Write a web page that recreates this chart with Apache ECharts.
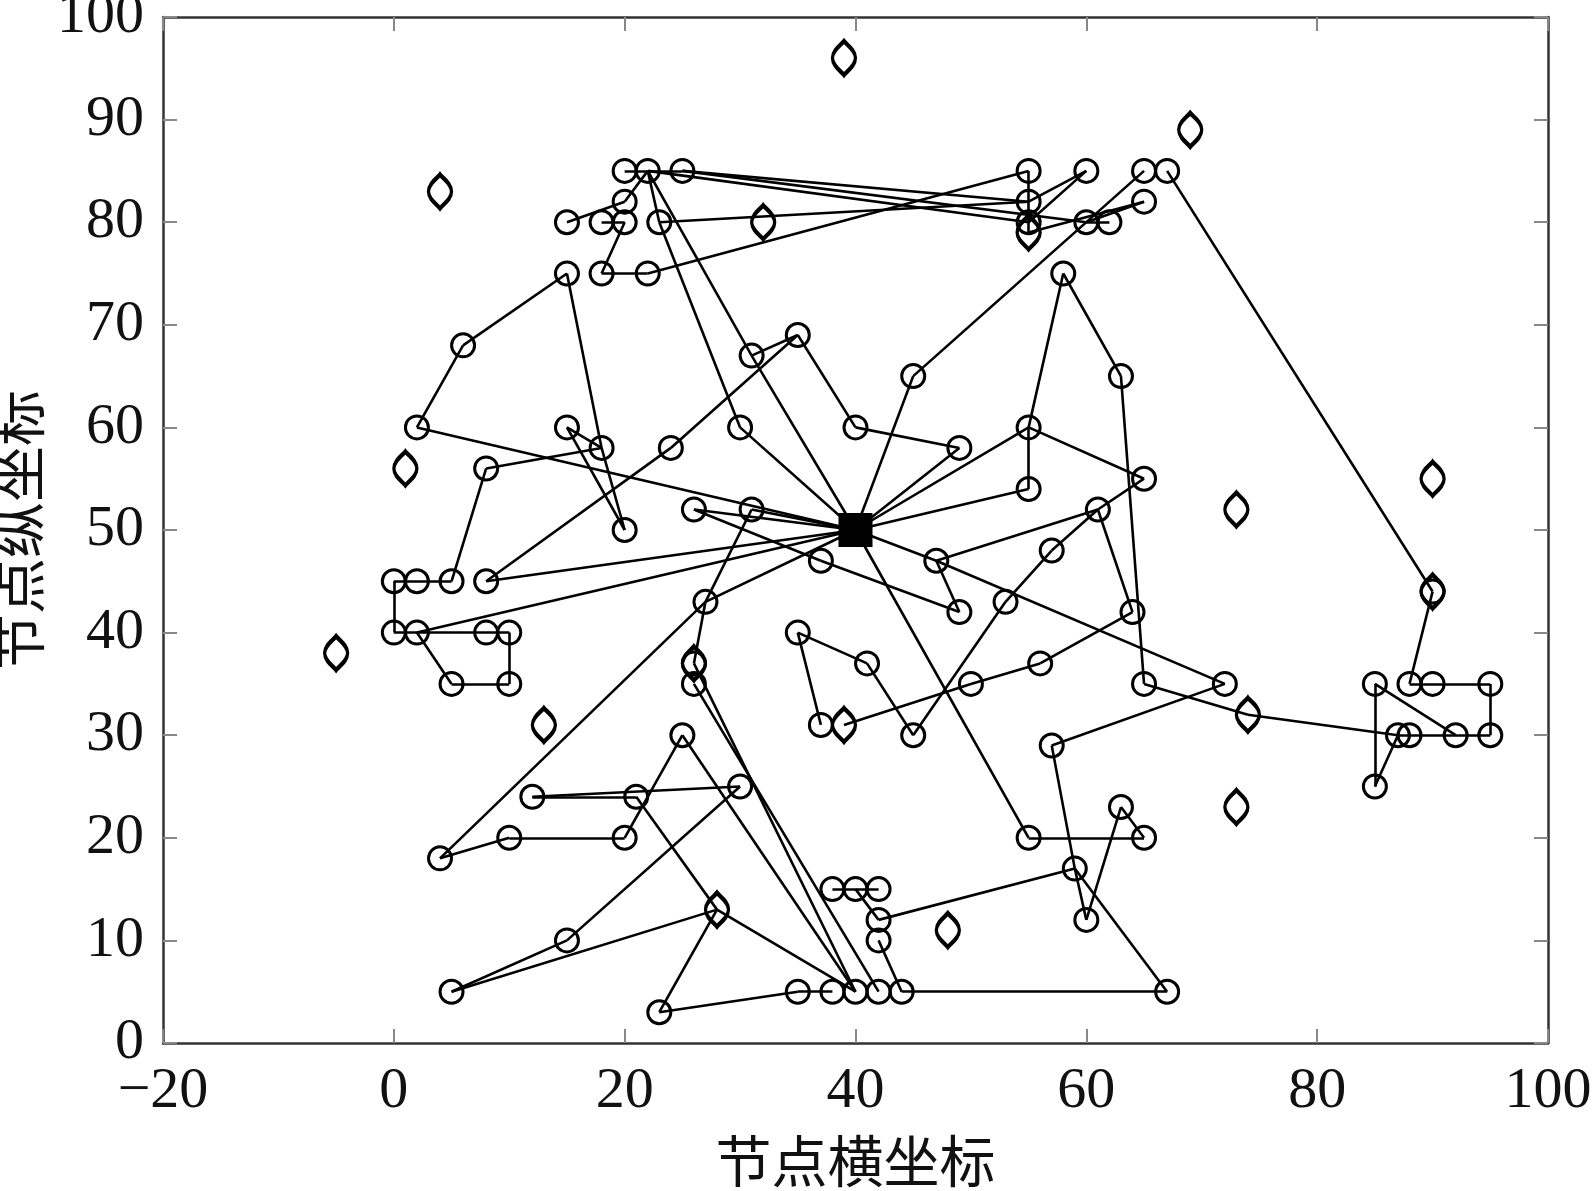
<!DOCTYPE html>
<html>
<head>
<meta charset="utf-8">
<script src="https://cdn.jsdelivr.net/npm/echarts@6/dist/echarts.min.js"></script>
<style>
  html, body { margin: 0; padding: 0; background: #fff; }
  #chart { width: 1595px; height: 1191px; }
</style>
</head>
<body>
<div id="chart"></div>
<script>
// 普通节点 (circles)
var circleNodes = [
  [20, 85], [22, 85], [25, 85], [55, 85], [60, 85], [65, 85], [67, 85],
  [20, 82], [55, 82], [65, 82],
  [15, 80], [18, 80], [20, 80], [23, 80], [55, 80], [60, 80], [62, 80],
  [15, 75], [18, 75], [22, 75], [58, 75],
  [35, 69], [6, 68], [31, 67], [45, 65], [63, 65],
  [2, 60], [15, 60], [30, 60], [40, 60], [55, 60],
  [18, 58], [24, 58], [49, 58], [8, 56], [65, 55], [55, 54],
  [20, 50], [26, 52], [31, 52], [61, 52],
  [37, 47], [47, 47], [57, 48],
  [0, 45], [2, 45], [5, 45], [8, 45],
  [27, 43], [49, 42], [53, 43], [64, 42], [90, 44],
  [0, 40], [2, 40], [8, 40], [10, 40], [35, 40],
  [26, 37], [41, 37], [56, 37],
  [5, 35], [10, 35], [26, 35], [50, 35], [65, 35], [72, 35],
  [85, 35], [88, 35], [90, 35], [95, 35],
  [37, 31], [25, 30], [45, 30], [57, 29], [87, 30], [88, 30], [92, 30], [95, 30],
  [85, 25], [12, 24], [21, 24], [30, 25], [63, 23],
  [4, 18], [10, 20], [20, 20], [55, 20], [65, 20], [59, 17],
  [38, 15], [40, 15], [42, 15], [42, 12], [60, 12],
  [15, 10], [42, 10],
  [5, 5], [35, 5], [38, 5], [40, 5], [42, 5], [44, 5], [67, 5], [23, 3]
];

// 菱形节点 (diamonds)
var diamondNodes = [
  [39, 96], [69, 89], [4, 83], [32, 80], [55, 79], [1, 56], [73, 52],
  [90, 55], [90, 44], [-5, 38], [26, 37], [13, 31], [39, 31], [74, 32],
  [73, 23], [28, 13], [48, 11]
];

// 汇聚节点 (sink)
var sinkNodes = [[40, 50]];

// 连线
var edges = [
  [[15, 80], [20, 82]], [[20, 82], [22, 85]], [[20, 85], [22, 85]], [[22, 85], [25, 85]],
  [[20, 80], [18, 75]], [[18, 80], [20, 80]], [[22, 85], [23, 80]], [[18, 75], [22, 75]],
  [[22, 75], [55, 85]], [[22, 85], [55, 80]], [[25, 85], [55, 82]], [[25, 85], [60, 80]],
  [[23, 80], [55, 82]], [[22, 85], [31, 67]], [[31, 67], [40, 50]], [[23, 80], [30, 60]],
  [[30, 60], [40, 50]], [[31, 67], [35, 69]], [[35, 69], [40, 60]], [[40, 60], [49, 58]],
  [[49, 58], [40, 50]],
  [[15, 75], [6, 68]], [[6, 68], [2, 60]], [[2, 60], [40, 50]],
  [[15, 75], [18, 58]], [[18, 58], [20, 50]], [[15, 60], [20, 50]], [[15, 60], [18, 58]],
  [[8, 56], [18, 58]], [[8, 56], [5, 45]],
  [[0, 45], [5, 45]], [[0, 45], [0, 40]], [[0, 40], [10, 40]], [[10, 40], [10, 35]],
  [[10, 35], [5, 35]], [[5, 35], [2, 40]],
  [[2, 40], [40, 50]], [[8, 45], [40, 50]], [[8, 45], [24, 58]], [[24, 58], [35, 69]],
  [[26, 52], [37, 47]], [[37, 47], [49, 42]], [[26, 52], [40, 50]], [[31, 52], [40, 50]],
  [[31, 52], [27, 43]], [[27, 43], [26, 37]], [[4, 18], [27, 43]], [[27, 43], [40, 50]],
  [[55, 85], [55, 79]], [[60, 85], [55, 82]], [[60, 85], [55, 80]], [[65, 85], [45, 65]],
  [[45, 65], [40, 50]], [[67, 85], [90, 44]], [[65, 82], [55, 79]], [[65, 82], [60, 80]],
  [[60, 80], [62, 80]],
  [[58, 75], [55, 60]], [[58, 75], [63, 65]], [[63, 65], [65, 35]],
  [[40, 50], [55, 60]], [[40, 50], [55, 54]], [[55, 60], [55, 54]], [[55, 60], [65, 55]],
  [[65, 55], [61, 52]], [[61, 52], [57, 48]], [[57, 48], [53, 43]], [[47, 47], [61, 52]],
  [[40, 50], [47, 47]], [[47, 47], [49, 42]], [[47, 47], [72, 35]], [[61, 52], [64, 42]],
  [[64, 42], [56, 37]], [[56, 37], [50, 35]], [[50, 35], [39, 31]], [[53, 43], [45, 30]],
  [[35, 40], [41, 37]], [[41, 37], [45, 30]], [[35, 40], [37, 31]], [[40, 50], [55, 20]],
  [[72, 35], [57, 29]], [[65, 35], [74, 32]], [[74, 32], [87, 30]], [[57, 29], [59, 17]],
  [[90, 44], [88, 35]], [[88, 35], [95, 35]], [[95, 35], [95, 30]], [[95, 30], [87, 30]],
  [[85, 35], [85, 25]], [[85, 25], [87, 30]], [[85, 35], [92, 30]],
  [[55, 20], [65, 20]], [[63, 23], [65, 20]], [[63, 23], [60, 12]], [[59, 17], [60, 12]],
  [[59, 17], [67, 5]], [[42, 12], [59, 17]], [[44, 5], [67, 5]], [[42, 10], [44, 5]],
  [[40, 15], [42, 12]], [[38, 15], [42, 15]],
  [[4, 18], [10, 20]], [[10, 20], [20, 20]], [[12, 24], [21, 24]], [[12, 24], [30, 25]],
  [[20, 20], [25, 30]], [[21, 24], [28, 13]], [[28, 13], [40, 5]], [[25, 30], [40, 5]],
  [[5, 5], [15, 10]], [[15, 10], [30, 25]], [[5, 5], [28, 13]], [[23, 3], [28, 13]],
  [[23, 3], [35, 5]], [[26, 37], [40, 5]], [[26, 35], [42, 5]], [[35, 5], [38, 5]]
];

var xTicks = { min: -20, max: 100, interval: 20 };
var yTicks = { min: 0, max: 100, interval: 10 };

var labelFont = "'Liberation Serif', 'DejaVu Serif', serif";
var cjkFont = "'Noto Sans CJK SC', sans-serif";

// 菱形的样子：上下带尖的椭圆
var diamondPath = "path://M0,-17C3,-13 12,-8 12,0C12,8 3,13 0,17C-3,13 -12,8 -12,0C-12,-8 -3,-13 0,-17Z";

var chart = echarts.init(document.getElementById("chart"));

function axisBase(extra) {
  var base = {
    type: "value",
    axisLine: { show: true, onZero: false, lineStyle: { color: "#333", width: 2.5 } },
    axisTick: { show: true, inside: true, length: 14, lineStyle: { color: "#888", width: 2 } },
    splitLine: { show: false }
  };
  return Object.assign(base, extra);
}

var option = {
  animation: false,
  backgroundColor: "#fff",
  grid: {
    left: 163, right: 47, top: 17, bottom: 148,
    containLabel: false,
    outerBoundsMode: "none"
  },
  xAxis: [
    axisBase({
      position: "bottom",
      min: xTicks.min, max: xTicks.max, interval: xTicks.interval,
      name: "节点横坐标",
      nameLocation: "middle",
      nameGap: 90,
      nameTextStyle: { fontFamily: cjkFont, fontSize: 56, color: "#111" },
      axisLabel: {
        margin: 20,
        fontFamily: labelFont, fontSize: 58, color: "#111",
        formatter: function (v) { return String(v).replace("-", "\u2212"); }
      }
    }),
    axisBase({
      position: "top",
      min: xTicks.min, max: xTicks.max, interval: xTicks.interval,
      axisLabel: { show: false }
    })
  ],
  yAxis: [
    axisBase({
      position: "left",
      min: yTicks.min, max: yTicks.max, interval: yTicks.interval,
      name: "节点纵坐标",
      nameLocation: "middle",
      nameGap: 104,
      nameTextStyle: { fontFamily: cjkFont, fontSize: 56, color: "#111" },
      axisLabel: { margin: 19, fontFamily: labelFont, fontSize: 58, color: "#111" }
    }),
    axisBase({
      position: "right",
      min: yTicks.min, max: yTicks.max, interval: yTicks.interval,
      axisLabel: { show: false }
    })
  ],
  series: [
    {
      type: "lines",
      coordinateSystem: "cartesian2d",
      silent: true,
      lineStyle: { color: "#000", width: 2.6, opacity: 1 },
      data: edges.map(function (e) { return { coords: e }; }),
      z: 2
    },
    {
      type: "scatter",
      silent: true,
      symbol: "circle",
      symbolSize: 23,
      itemStyle: { color: "rgba(0,0,0,0)", borderColor: "#000", borderWidth: 3, opacity: 1 },
      data: circleNodes,
      z: 3
    },
    {
      type: "scatter",
      silent: true,
      symbol: diamondPath,
      symbolSize: [23, 34],
      itemStyle: { color: "rgba(0,0,0,0)", borderColor: "#000", borderWidth: 4, opacity: 1 },
      data: diamondNodes,
      z: 4
    },
    {
      type: "scatter",
      silent: true,
      symbol: "rect",
      symbolSize: 34,
      itemStyle: { color: "#000", opacity: 1 },
      data: sinkNodes,
      z: 5
    }
  ]
};

chart.setOption(option);
</script>
</body>
</html>
